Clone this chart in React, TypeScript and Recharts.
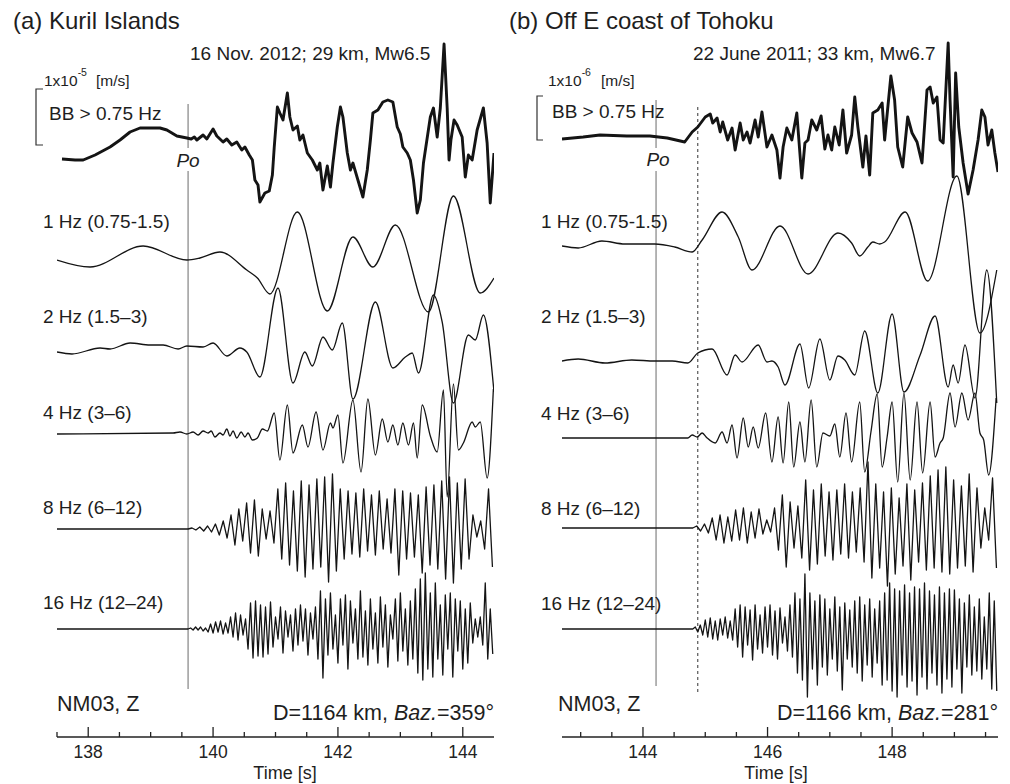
import { LineChart, Line, XAxis, YAxis, ReferenceLine } from "recharts";

const FONT = '"Liberation Sans", Arial, Helvetica, sans-serif';
const INK = "#141414";

// time axes
const kurilDomain = [137.5, 144.5];
const kurilTicks = [137.5, 138, 138.5, 139, 139.5, 140, 140.5, 141, 141.5, 142, 142.5, 143, 143.5, 144];
const tohokuDomain = [142.7, 149.7];
const tohokuTicks = [143, 143.5, 144, 144.5, 145, 145.5, 146, 146.5, 147, 147.5, 148, 148.5, 149, 149.5];

// picks (s)
const kurilPo = 139.6;
const tohokuPo = 144.21;
const tohokuOnset = 144.88;

// (a) Kuril Islands — [time s, relative amplitude]
const kurilBB = [
  [137.58, -1], [137.79, -2], [137.92, -2], [138.11, 3], [138.35, 11], [138.51, 18], [138.67, 26], [138.83, 30],
  [139.15, 30], [139.26, 28], [139.42, 22], [139.58, 20], [139.65, 19], [139.7, 21], [139.74, 18], [139.84, 23],
  [139.9, 19], [140.0, 29], [140.06, 22], [140.16, 16], [140.22, 19], [140.3, 13], [140.38, 16], [140.46, 8],
  [140.51, 11], [140.58, 3], [140.63, -2], [140.67, -22], [140.72, -27], [140.75, -44], [140.83, -35], [140.9, -33],
  [140.95, -17], [140.98, 11], [141.03, 51], [141.07, 45], [141.12, 38], [141.19, 65], [141.23, 41], [141.28, 28],
  [141.35, 32], [141.39, 18], [141.44, 23], [141.51, 5], [141.59, -2], [141.67, -12], [141.71, -5], [141.76, -32],
  [141.83, -8], [141.88, -29], [141.92, -5], [141.99, 31], [142.04, 51], [142.08, 41], [142.15, 5], [142.2, -12],
  [142.24, -5], [142.32, -22], [142.4, -39], [142.47, -12], [142.52, 18], [142.56, 45], [142.64, 48], [142.72, 56],
  [142.8, 58], [142.88, 56], [142.95, 31], [143.0, 24], [143.04, 11], [143.11, 5], [143.16, -2], [143.21, -22],
  [143.27, -55], [143.32, -42], [143.37, -5], [143.48, 41], [143.53, 50], [143.59, 21], [143.64, 50], [143.7, 114],
  [143.75, 50], [143.78, -2], [143.81, 18], [143.86, 38], [143.91, 33], [143.99, 21], [144.04, -19], [144.09, 3],
  [144.15, -2], [144.23, 28], [144.33, 50], [144.39, 15], [144.44, -45], [144.5, 5],
];
const kuril1Hz = [
  [137.5, 0], [138.03, -7], [138.88, 14], [139.58, 0], [139.79, 2], [140.11, 8], [140.54, -10], [140.71, -18],
  [140.91, -34], [141.35, 48], [141.83, -51], [142.24, 23], [142.56, -7], [142.92, 35], [143.45, -52], [143.85, 64],
  [144.28, -33], [144.5, -18],
];
const kuril2Hz = [
  [137.5, 0], [137.74, -2], [138.19, 4], [138.35, 3], [138.67, 9], [138.99, 7], [139.2, 7], [139.44, 3],
  [139.58, 6], [139.84, 5], [140.0, 9], [140.22, -4], [140.43, 4], [140.54, 0], [140.75, -25], [141.04, 64],
  [141.28, -31], [141.47, 0], [141.59, -14], [141.76, 15], [141.91, 2], [142.07, 29], [142.24, -47], [142.6, 50],
  [142.88, -16], [143.08, -5], [143.19, -1], [143.29, -21], [143.53, 57], [143.67, 30], [143.85, -51], [144.09, 17],
  [144.2, 12], [144.33, 37], [144.5, -40],
];
const kuril4Hz = [
  [137.5, 0], [139.36, 1], [139.47, 2], [139.58, 0], [139.68, 2], [139.76, -1], [139.84, 3], [139.92, 1],
  [139.97, 3], [140.03, -3], [140.11, 1], [140.16, -1], [140.22, 5], [140.27, -2], [140.32, 3], [140.38, -4],
  [140.45, 2], [140.51, -3], [140.56, 1], [140.63, -6], [140.71, -4], [140.79, 5], [140.87, 3], [140.98, 21],
  [141.07, -26], [141.19, 29], [141.28, -19], [141.43, 9], [141.52, -13], [141.65, 22], [141.76, -16], [141.88, 11],
  [141.92, 6], [142.0, 19], [142.08, -29], [142.24, 34], [142.37, -38], [142.48, 35], [142.6, -21], [142.71, 15],
  [142.8, -8], [142.88, 9], [142.96, -11], [143.04, 11], [143.13, -11], [143.21, 11], [143.27, -24], [143.35, 29],
  [143.48, -2], [143.59, -18], [143.69, 44], [143.75, -63], [143.85, 50], [143.93, -16], [144.01, -9], [144.15, 12],
  [144.2, 7], [144.28, 12], [144.39, -44], [144.49, 45],
];
// 8 Hz and 16 Hz: successive peaks/troughs from the onset on
const kuril8Hz = [
  0, 1, -1, 2, -2, 3, -3, 5, -6, 8, -9, 14, -16, 20, -12, 26, -24, 29, -27, 20,
  -10, 18, -14, 40, -30, 46, -36, 38, -42, 48, -48, 44, -40, 50, -38, 52, -53, 55, -42, 40,
  -30, 38, -25, 36, -28, 40, -22, 34, -26, 38, -20, 30, -24, 40, -46, 38, -30, 36, -28, 34,
  -44, 42, -36, 44, -40, 48, -50, 52, -54, 46, -40, 50, -30, 14, -8, 8, -20, 40, -38,
];
const kuril16Hz = [
  0, 1, -1, 2, -1, 2, -2, 1, -3, 5, -4, 7, -3, 8, -5, 6, -4, 12, -8, 16, -11, 14, -6, 10,
  -20, 26, -29, 28, -27, 24, -28, 22, -25, 27, -18, 12, -10, 22, -24, 18, -8, 14, -22, 20, -16, 24,
  -12, 20, -26, 16, -10, 22, -30, 38, -49, 30, -26, 36, -20, 14, -34, 30, -16, 34, -40, 28, -14, 20,
  -30, 38, -28, 18, -36, 30, -20, 16, -34, 32, -18, 24, -38, 14, -10, 30, -32, 36, -22, 20, -36, 28,
  -30, 40, -44, 50, -51, 56, -40, 36, -48, 46, -30, 24, -46, 34, -20, 36, -48, 30, -22, 28, -40, 20,
  -34, 26, -14, 10, -8, 12, -16, 46, -30, 20, -25,
];

// (b) Off E coast of Tohoku
const tohokuBB = [
  [142.7, 0], [143.04, 2], [143.31, 4], [143.74, 3], [144.11, 3], [144.39, 1], [144.67, -3], [144.79, 7],
  [144.88, 12], [145.0, 22], [145.08, 25], [145.12, 16], [145.19, 21], [145.24, 7], [145.28, 17], [145.36, -1],
  [145.43, 11], [145.48, -11], [145.56, 16], [145.61, -1], [145.67, 7], [145.72, -4], [145.8, 19], [145.85, 2],
  [145.91, 27], [145.99, -8], [146.07, 4], [146.15, -11], [146.2, -39], [146.25, -8], [146.31, 11], [146.39, -1],
  [146.47, 26], [146.55, -39], [146.6, -4], [146.65, -1], [146.71, 19], [146.79, 9], [146.86, 23], [146.92, -10],
  [146.97, 4], [147.03, -11], [147.08, 12], [147.15, -6], [147.21, 29], [147.27, -14], [147.35, 4], [147.4, 42],
  [147.45, 12], [147.53, -28], [147.58, 3], [147.64, -36], [147.69, 26], [147.77, 29], [147.84, 36], [147.88, -1],
  [147.98, 63], [148.04, 39], [148.09, -8], [148.17, -28], [148.25, 22], [148.32, 6], [148.4, -3], [148.48, -24],
  [148.56, 49], [148.61, 52], [148.66, 36], [148.72, 42], [148.77, -1], [148.82, -4], [148.9, 96], [148.93, 39],
  [148.98, -38], [149.02, 66], [149.07, 12], [149.14, -24], [149.22, -55], [149.3, -31], [149.38, -1], [149.44, 29],
  [149.49, 22], [149.54, -6], [149.6, 9], [149.65, -14], [149.7, -33],
];
const tohoku1Hz = [
  [142.7, 0], [142.96, -2], [143.34, 5], [143.71, 2], [144.19, 2], [144.51, -1], [144.79, -6], [144.95, 6],
  [145.27, 34], [145.53, 9], [145.75, -24], [146.2, 20], [146.65, -28], [147.13, 13], [147.35, 3], [147.48, -10],
  [147.61, -1], [147.69, 4], [147.8, 2], [147.88, 4], [148.21, 34], [148.57, -35], [149.04, 70], [149.41, -87],
  [149.68, -24],
];
const tohoku2Hz = [
  [142.7, 0], [142.96, 2], [143.39, -2], [143.82, 1], [144.19, 0], [144.47, 0], [144.72, -2], [144.88, 8],
  [145.11, 12], [145.35, -14], [145.48, 6], [145.59, -1], [145.85, 16], [145.99, -1], [146.07, 0], [146.17, -6],
  [146.28, -24], [146.52, 17], [146.66, -27], [146.84, 22], [147.0, -19], [147.13, 5], [147.24, 1], [147.4, -14],
  [147.56, 30], [147.77, -32], [148.0, 47], [148.19, -31], [148.45, 6], [148.69, 45], [148.9, -26], [148.98, -4],
  [149.06, -22], [149.17, 16], [149.33, -37], [149.52, 91], [149.68, -42],
];
const tohoku4Hz = [
  [142.7, 0], [144.72, 0], [144.79, 3], [144.87, 1], [144.95, 5], [145.03, 0], [145.16, -5], [145.27, 6],
  [145.35, -5], [145.43, 13], [145.51, -20], [145.61, 20], [145.69, -9], [145.77, 11], [145.85, -10], [145.97, 25],
  [146.07, -24], [146.17, 21], [146.25, -25], [146.34, 36], [146.42, -29], [146.52, 16], [146.6, -24], [146.7, 38],
  [146.79, -29], [146.89, 5], [147.0, 2], [147.08, 14], [147.16, -19], [147.26, 25], [147.35, -24], [147.48, 36],
  [147.56, -34], [147.66, 6], [147.76, 44], [147.84, -29], [147.92, 1], [148.0, 36], [148.09, -44], [148.19, 45],
  [148.29, -42], [148.4, 36], [148.49, -35], [148.61, 36], [148.69, -19], [148.77, -5], [148.82, 0], [148.93, 45],
  [149.01, 11], [149.12, 45], [149.22, 18], [149.33, 45], [149.41, 5], [149.47, -2], [149.55, -37], [149.67, 40],
];
const tohoku8Hz = [
  0, 2, -3, 4, -5, 10, -12, 13, -15, 11, -13, 18, -12, 20, -15, 16, -10, 19, -6, 8,
  -4, 20, -22, 33, -39, 26, -20, 22, -30, 48, -42, 38, -36, 44, -28, 36, -32, 38, -26, 44,
  -30, 36, -24, 40, -34, 66, -50, 44, -40, 36, -58, 40, -46, 30, -38, 44, -52, 38, -34, 45,
  -42, 52, -40, 58, -44, 61, -46, 48, -40, 42, -38, 54, -44, 40, -20, 20, -12, 50, -40,
];
const tohoku16Hz = [
  0, 2, -3, 4, -6, 9, -8, 11, -10, 8, -11, 10, -6, 12, -9, 8, -11, 20, -18, 24, -28, 22, -16, 19,
  -31, 24, -20, 14, -24, 22, -18, 24, -26, 18, -30, 21, -14, 12, -22, 24, -28, 36, -44, 30, -51, 55,
  -68, 36, -40, 28, -56, 34, -38, 30, -46, 20, -30, 32, -42, 22, -61, 26, -30, 19, -38, 28, -44, 32,
  -52, 24, -36, 30, -48, 20, -34, 28, -56, 36, -51, 46, -62, 40, -68, 38, -46, 44, -58, 36, -52, 42,
  -66, 40, -48, 46, -60, 38, -44, 34, -56, 42, -64, 36, -50, 40, -58, 39, -40, 30, -64, 26, -38, 34,
  -46, 22, -42, 30, -50, 12, -40, 36, -60, 28, -62,
];

const DT8 = 0.0625;
const DT16 = 0.04;
const kurilHfOnset = 139.6;
const tohokuHfOnset = 144.8;

const PLOT_H = 737;

const fromPairs = (p: number[][]) => p.map(([t, v]) => ({ t, v }));
// flat lead-in from the window start, then peaks/troughs every dt
const fromPeaks = (start: number, t0: number, dt: number, amps: number[]) => [
  { t: start, v: 0 },
  ...amps.map((v, i) => ({ t: +(t0 + i * dt).toFixed(4), v })),
];

type Trace = { id: string; data: { t: number; v: number }[]; base: number; w: number; curve: "linear" | "monotone" };

const kurilTraces: Trace[] = [
  { id: "bb", data: fromPairs(kurilBB), base: 158, w: 2.9, curve: "linear" },
  { id: "f1", data: fromPairs(kuril1Hz), base: 260, w: 1.3, curve: "monotone" },
  { id: "f2", data: fromPairs(kuril2Hz), base: 352, w: 1.3, curve: "monotone" },
  { id: "f4", data: fromPairs(kuril4Hz), base: 434, w: 1.3, curve: "monotone" },
  { id: "f8", data: fromPeaks(137.5, kurilHfOnset, DT8, kuril8Hz), base: 529, w: 1.3, curve: "linear" },
  { id: "f16", data: fromPeaks(137.5, kurilHfOnset, DT16, kuril16Hz), base: 629, w: 1.3, curve: "linear" },
];
const tohokuTraces: Trace[] = [
  { id: "bb", data: fromPairs(tohokuBB), base: 139, w: 2.9, curve: "linear" },
  { id: "f1", data: fromPairs(tohoku1Hz), base: 246, w: 1.3, curve: "monotone" },
  { id: "f2", data: fromPairs(tohoku2Hz), base: 361, w: 1.3, curve: "monotone" },
  { id: "f4", data: fromPairs(tohoku4Hz), base: 438, w: 1.3, curve: "monotone" },
  { id: "f8", data: fromPeaks(142.7, tohokuHfOnset, DT8, tohoku8Hz), base: 528, w: 1.3, curve: "linear" },
  { id: "f16", data: fromPeaks(142.7, tohokuHfOnset, DT16, tohoku16Hz), base: 629, w: 1.3, curve: "linear" },
];

function TimeTick(props: any) {
  const { x, y, payload } = props;
  const v = payload.value as number;
  const major = Math.abs(v % 2) < 1e-6;
  return (
    <g>
      <line x1={x} x2={x} y1={y} y2={y - (major ? 10 : 5)} stroke="#222" strokeWidth={1.3} />
      {major && (
        <text x={x} y={y + 21} textAnchor="middle" fontSize={17.5} fontFamily={FONT} fill="#222">
          {v}
        </text>
      )}
    </g>
  );
}

function Panel(props: {
  left: number;
  marginRight: number;
  domain: number[];
  ticks: number[];
  traces: Trace[];
  po: number;
  poTop: number;
  poBottom: number;
  onset?: number;
}) {
  const { left, marginRight, domain, ticks, traces, po, poTop, poBottom, onset } = props;
  return (
    <div style={{ position: "absolute", left, top: 0 }}>
      <LineChart width={505} height={784} margin={{ top: 0, right: marginRight, bottom: 0, left: 57 }}>
        <XAxis
          type="number"
          dataKey="t"
          domain={domain}
          allowDataOverflow
          ticks={ticks}
          interval={0}
          tick={(p: any) => <TimeTick {...p} />}
          tickLine={false}
          tickSize={0}
          tickMargin={0}
          axisLine={{ stroke: "#222", strokeWidth: 1.3 }}
          height={47}
        />
        <YAxis yAxisId="frame" hide reversed type="number" domain={[0, PLOT_H]} allowDataOverflow />
        {traces.map((tr) => (
          <YAxis
            key={"y" + tr.id}
            yAxisId={tr.id}
            hide
            type="number"
            domain={[tr.base - PLOT_H, tr.base]}
            allowDataOverflow
          />
        ))}
        <ReferenceLine
          yAxisId="frame"
          segment={[{ x: po, y: poTop }, { x: po, y: 148 }]}
          stroke="#9c9c9c"
          strokeWidth={1.5}
        />
        <ReferenceLine
          yAxisId="frame"
          segment={[{ x: po, y: 171 }, { x: po, y: poBottom }]}
          stroke="#9c9c9c"
          strokeWidth={1.5}
        />
        {onset !== undefined && (
          <ReferenceLine
            yAxisId="frame"
            segment={[{ x: onset, y: 107 }, { x: onset, y: 695 }]}
            stroke="#333"
            strokeWidth={1}
            strokeDasharray="3 3"
          />
        )}
        {traces.map((tr) => (
          <Line
            key={tr.id}
            yAxisId={tr.id}
            data={tr.data}
            dataKey="v"
            type={tr.curve}
            stroke={INK}
            strokeWidth={tr.w}
            strokeLinejoin="round"
            dot={false}
            activeDot={false}
            isAnimationActive={false}
          />
        ))}
      </LineChart>
    </div>
  );
}

const bandLabels = ["1 Hz (0.75-1.5)", "2 Hz (1.5\u20133)", "4 Hz (3\u20136)", "8 Hz (6\u201312)", "16 Hz (12\u201324)"];

function Overlay() {
  const t = { fontFamily: FONT, fill: "#1e1e1e" } as const;
  const leftY = [228, 323, 419, 514, 609];
  const rightY = [228, 323, 420, 515, 610];
  return (
    <svg width={1010} height={784} style={{ position: "absolute", left: 0, top: 0, pointerEvents: "none" }}>
      <text x={13} y={29} fontSize={24} {...t}>(a) Kuril Islands</text>
      <text x={509} y={29} fontSize={24} {...t}>(b) Off E coast of Tohoku</text>
      <text x={190} y={60} fontSize={19} {...t}>16 Nov. 2012; 29 km, Mw6.5</text>
      <text x={693} y={60} fontSize={19} {...t}>22 June 2011; 33 km, Mw6.7</text>

      <text x={44} y={86} fontSize={15.5} {...t}>
        1x10<tspan dy={-10} fontSize={10.5}>-5</tspan>
        <tspan x={96} dy={10}>[m/s]</tspan>
      </text>
      <text x={548} y={86} fontSize={15.5} {...t}>
        1x10<tspan dy={-10} fontSize={10.5}>-6</tspan>
        <tspan x={601} dy={10}>[m/s]</tspan>
      </text>
      <path d="M43,89 H36 V145 H43" fill="none" stroke="#333" strokeWidth={1.2} />
      <path d="M543,96 H537 V140 H543" fill="none" stroke="#333" strokeWidth={1.2} />
      <text x={49} y={120} fontSize={19} {...t}>BB &gt; 0.75 Hz</text>
      <text x={552} y={118} fontSize={19} {...t}>BB &gt; 0.75 Hz</text>
      <text x={188} y={167} fontSize={19} fontStyle="italic" textAnchor="middle" {...t}>Po</text>
      <text x={658} y={166} fontSize={19} fontStyle="italic" textAnchor="middle" {...t}>Po</text>

      {bandLabels.map((s, i) => (
        <text key={"l" + i} x={43} y={leftY[i]} fontSize={19} {...t}>{s}</text>
      ))}
      {bandLabels.map((s, i) => (
        <text key={"r" + i} x={541} y={rightY[i]} fontSize={19} {...t}>{s}</text>
      ))}

      <text x={57} y={711} fontSize={21.5} {...t}>NM03, Z</text>
      <text x={558} y={711} fontSize={21.5} {...t}>NM03, Z</text>
      <text x={494} y={720} fontSize={21.5} textAnchor="end" {...t}>
        D=1164 km, <tspan fontStyle="italic">Baz.</tspan>=359°
      </text>
      <text x={998} y={720} fontSize={21.5} textAnchor="end" {...t}>
        D=1166 km, <tspan fontStyle="italic">Baz.</tspan>=281°
      </text>
      <text x={285} y={779} fontSize={18} textAnchor="middle" {...t}>Time [s]</text>
      <text x={776} y={779} fontSize={18} textAnchor="middle" {...t}>Time [s]</text>
    </svg>
  );
}

export default function App() {
  return (
    <div style={{ position: "absolute", left: 0, top: 0, width: 1010, height: 784, background: "#fff", overflow: "hidden" }}>
      <Panel
        left={0}
        marginRight={11}
        domain={kurilDomain}
        ticks={kurilTicks}
        traces={kurilTraces}
        po={kurilPo}
        poTop={104}
        poBottom={689}
      />
      <Panel
        left={505}
        marginRight={12}
        domain={tohokuDomain}
        ticks={tohokuTicks}
        traces={tohokuTraces}
        po={tohokuPo}
        poTop={100}
        poBottom={686}
        onset={tohokuOnset}
      />
      <Overlay />
    </div>
  );
}
